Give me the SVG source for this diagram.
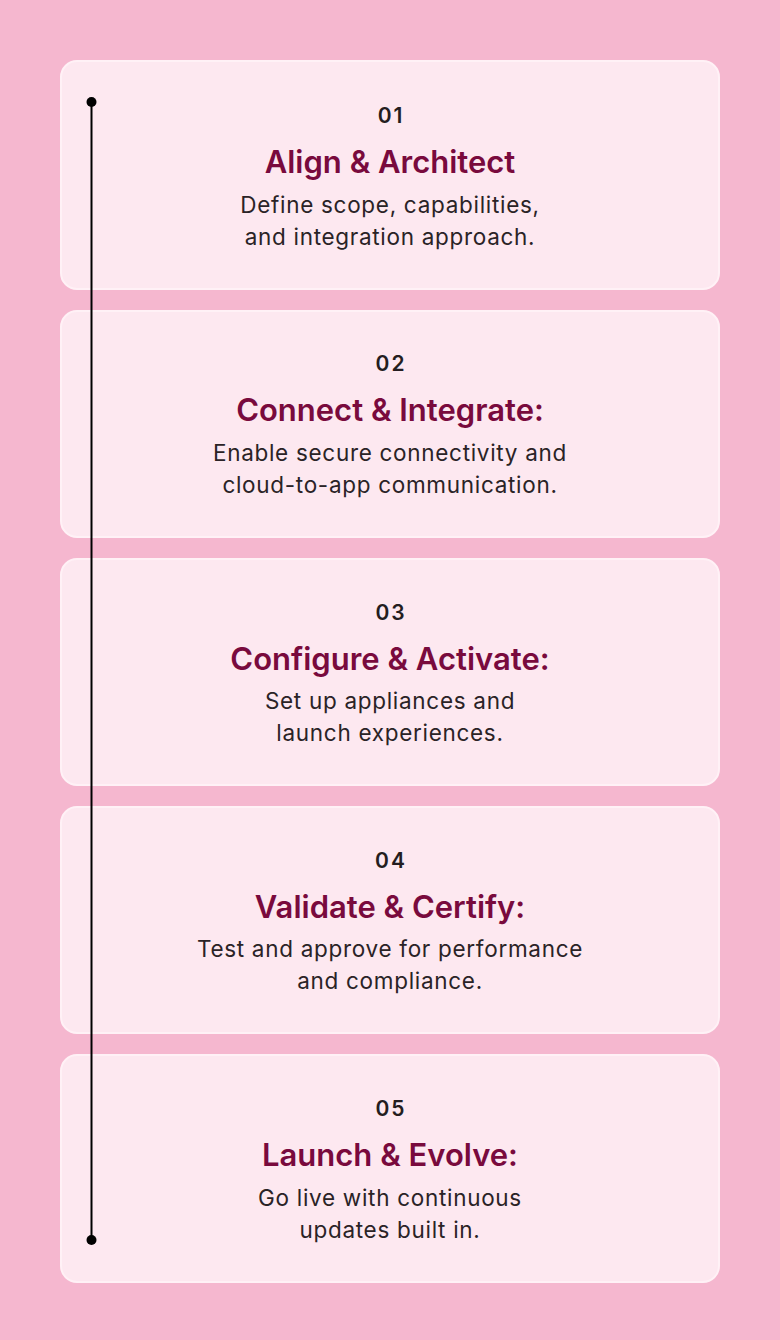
<svg xmlns="http://www.w3.org/2000/svg" width="780" height="1340" viewBox="0 0 780 1340">
<style>
.card{fill:#fde8f0;stroke:#fff1f6;stroke-width:2}
.num{font-family:Inter,"Noto Sans",sans-serif;font-weight:600;font-size:21px;fill:#241d20;text-anchor:middle;letter-spacing:2px}
.title{font-family:Inter,"Noto Sans",sans-serif;font-weight:600;font-size:31px;fill:#790a3d;text-anchor:middle}
.desc{font-family:Inter,"Noto Sans",sans-serif;font-weight:400;font-size:22.5px;fill:#2a2326;text-anchor:middle;letter-spacing:0.7px}
</style>
<rect width="780" height="1340" fill="#f5b7cf"/>
<g id="step1">
<rect class="card" x="61" y="61" width="658" height="228" rx="16"/>
<text class="num" x="391" y="123">01</text>
<text class="title" x="390" y="173">Align &amp; Architect</text>
<text class="desc" x="390" y="213">Define scope, capabilities,</text>
<text class="desc" x="390" y="245">and integration approach.</text>
</g>
<g id="step2">
<rect class="card" x="61" y="311" width="658" height="226" rx="16"/>
<text class="num" x="391" y="371">02</text>
<text class="title" x="390" y="421">Connect &amp; Integrate:</text>
<text class="desc" x="390" y="461">Enable secure connectivity and</text>
<text class="desc" x="390" y="493">cloud-to-app communication.</text>
</g>
<g id="step3">
<rect class="card" x="61" y="559" width="658" height="226" rx="16"/>
<text class="num" x="391" y="620">03</text>
<text class="title" x="390" y="670">Configure &amp; Activate:</text>
<text class="desc" x="390" y="709">Set up appliances and</text>
<text class="desc" x="390" y="741">launch experiences.</text>
</g>
<g id="step4">
<rect class="card" x="61" y="807" width="658" height="226" rx="16"/>
<text class="num" x="391" y="868">04</text>
<text class="title" x="390" y="918">Validate &amp; Certify:</text>
<text class="desc" x="390" y="957">Test and approve for performance</text>
<text class="desc" x="390" y="989">and compliance.</text>
</g>
<g id="step5">
<rect class="card" x="61" y="1055" width="658" height="227" rx="16"/>
<text class="num" x="391" y="1116">05</text>
<text class="title" x="390" y="1166">Launch &amp; Evolve:</text>
<text class="desc" x="390" y="1206">Go live with continuous</text>
<text class="desc" x="390" y="1238">updates built in.</text>
</g>
<g id="connectors">
<line x1="91.5" y1="102" x2="91.5" y2="1240" stroke="#000" stroke-width="2"/>
<circle cx="91.5" cy="102" r="5" fill="#000"/>
<circle cx="91.5" cy="1240" r="5" fill="#000"/>
</g>
</svg>
